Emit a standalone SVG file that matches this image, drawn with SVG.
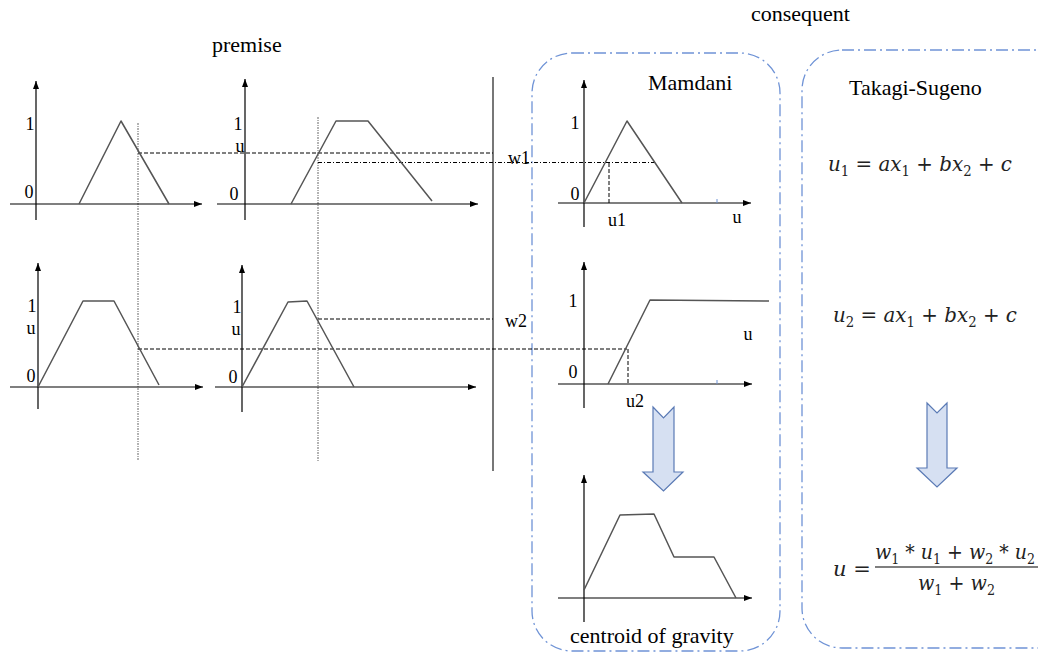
<svg xmlns="http://www.w3.org/2000/svg" width="1038" height="653" viewBox="0 0 1038 653">
<defs>
<marker id="ah" markerWidth="9" markerHeight="7" refX="8" refY="3" orient="auto" markerUnits="userSpaceOnUse">
<path d="M0,0 L8,3 L0,6 z" fill="#000"/>
</marker>
<style>
.ax{stroke:#000;stroke-width:1.2;fill:none;marker-end:url(#ah)}
.mf{stroke:#555;stroke-width:1.5;fill:none;stroke-linejoin:round}
.dash{stroke:#000;stroke-width:1;stroke-dasharray:4 2;fill:none}
.dd{stroke:#000;stroke-width:1;stroke-dasharray:4 2 1 2;fill:none}
.dot{stroke:#666;stroke-width:1;stroke-dasharray:2 1 1 1;fill:none}
.box{stroke:#6f93d6;stroke-width:1.3;stroke-dasharray:12 4 2 4;fill:none}
.big{font-family:"Liberation Serif",serif;font-size:22px;fill:#000}
.lb{font-family:"Liberation Serif",serif;font-size:18px;fill:#000;text-anchor:middle}
.eq{font-family:"DejaVu Serif",serif;font-size:21px;fill:#222}
.i{font-style:italic}
.sub{font-size:14px}
.barrow{fill:#d6e0f2;stroke:#5a7ab5;stroke-width:1.2}
</style>
</defs>

<text class="big" x="212" y="52">premise</text>
<text class="big" x="751" y="21">consequent</text>

<g id="boxes">
<rect class="box" x="532" y="53" width="248" height="598" rx="40"/>
<rect class="box" x="802" y="50" width="280" height="598" rx="40"/>
<text class="big" x="648" y="90">Mamdani</text>
<text class="big" x="849" y="95">Takagi-Sugeno</text>
</g>

<g id="connectors">
<line x1="493" y1="77" x2="493" y2="471" stroke="#777" stroke-width="2"/>
<line class="dot" x1="138" y1="123" x2="138" y2="461"/>
<line class="dot" x1="318" y1="117" x2="318" y2="461"/>
<line class="dash" x1="138" y1="153" x2="493" y2="153"/>
<line class="dd" x1="318" y1="162.5" x2="655" y2="162.5"/>
<line class="dash" x1="318" y1="319" x2="493" y2="319"/>
<line class="dash" x1="138" y1="349" x2="627" y2="349"/>
<text class="lb" x="519" y="164">w1</text>
<text class="lb" x="516" y="327">w2</text>
</g>

<g id="plot-a1">
<line class="ax" x1="36" y1="220" x2="36" y2="81"/>
<line class="ax" x1="10" y1="204" x2="202" y2="204"/>
<polyline class="mf" points="79,204 121,121 169,204"/>
<text class="lb" x="30" y="130">1</text>
<text class="lb" x="29" y="198">0</text>
</g>

<g id="plot-a2">
<line class="ax" x1="245" y1="220" x2="245" y2="79"/>
<line class="ax" x1="217" y1="204" x2="478" y2="204"/>
<polyline class="mf" points="291,204 336,121 368,121 432,201"/>
<text class="lb" x="238" y="130">1</text>
<text class="lb" x="240" y="152">u</text>
<text class="lb" x="234" y="200">0</text>
</g>

<g id="plot-b1">
<line class="ax" x1="38" y1="409" x2="38" y2="263"/>
<line class="ax" x1="10" y1="387" x2="203" y2="387"/>
<polyline class="mf" points="38,387 83,301 114,301 159,385"/>
<text class="lb" x="32" y="312">1</text>
<text class="lb" x="31" y="334">u</text>
<text class="lb" x="31" y="382">0</text>
</g>

<g id="plot-b2">
<line class="ax" x1="242" y1="412" x2="242" y2="265"/>
<line class="ax" x1="215" y1="387" x2="476" y2="387"/>
<polyline class="mf" points="242,387 288,302 307,301 354,387"/>
<text class="lb" x="237" y="313">1</text>
<text class="lb" x="236" y="335">u</text>
<text class="lb" x="233" y="383">0</text>
</g>

<g id="mamdani-1">
<line class="ax" x1="584" y1="227" x2="584" y2="80"/>
<line class="ax" x1="558" y1="203" x2="751" y2="203"/>
<polyline class="mf" points="584,203 627,121 682,203"/>
<line class="dash" x1="609" y1="163" x2="609" y2="203"/>
<line x1="717" y1="199" x2="717" y2="203" stroke="#6f93d6" stroke-width="1"/>
<text class="lb" x="575" y="129">1</text>
<text class="lb" x="575" y="200">0</text>
<text class="lb" x="617" y="226">u1</text>
<text class="lb" x="737" y="223">u</text>
</g>

<g id="mamdani-2">
<line class="ax" x1="584" y1="408" x2="584" y2="262"/>
<line class="ax" x1="558" y1="384" x2="752" y2="384"/>
<polyline class="mf" points="608,384 650,300 769,301"/>
<line class="dash" x1="628" y1="349" x2="628" y2="384"/>
<line x1="717" y1="380" x2="717" y2="384" stroke="#6f93d6" stroke-width="1"/>
<text class="lb" x="573" y="307">1</text>
<text class="lb" x="573" y="378">0</text>
<text class="lb" x="748" y="340">u</text>
<text class="lb" x="635" y="407">u2</text>
</g>

<g id="arrow-mamdani">
<path class="barrow" d="M653,407 L663.5,418 L674,407 L674,472 L683,472 L663.5,491 L643,472 L653,472 Z"/>
</g>

<g id="mamdani-result">
<line class="ax" x1="584" y1="622" x2="584" y2="475"/>
<line class="ax" x1="558" y1="598" x2="752" y2="598"/>
<polyline class="mf" points="584,590 620,515 654,514 674,557 714,557 736,598"/>
<text class="big" x="570" y="643">centroid of gravity</text>
</g>

<g id="ts-eq1">
<text class="eq" x="828" y="171" textLength="184" lengthAdjust="spacingAndGlyphs"><tspan class="i">u</tspan><tspan class="sub" dy="5">1</tspan><tspan dy="-5"> = </tspan><tspan class="i">ax</tspan><tspan class="sub" dy="5">1</tspan><tspan dy="-5"> + </tspan><tspan class="i">bx</tspan><tspan class="sub" dy="5">2</tspan><tspan dy="-5"> + </tspan><tspan class="i">c</tspan></text>
</g>

<g id="ts-eq2">
<text class="eq" x="833" y="322" textLength="184" lengthAdjust="spacingAndGlyphs"><tspan class="i">u</tspan><tspan class="sub" dy="5">2</tspan><tspan dy="-5"> = </tspan><tspan class="i">ax</tspan><tspan class="sub" dy="5">1</tspan><tspan dy="-5"> + </tspan><tspan class="i">bx</tspan><tspan class="sub" dy="5">2</tspan><tspan dy="-5"> + </tspan><tspan class="i">c</tspan></text>
</g>

<g id="arrow-ts">
<path class="barrow" d="M927,403 L937,413 L947,403 L947,468 L957,468 L937,487 L917,468 L927,468 Z"/>
</g>

<g id="ts-eq3">
<text class="eq" x="833" y="576"><tspan class="i">u</tspan> =</text>
<line x1="875" y1="567" x2="1038" y2="567" stroke="#000" stroke-width="1.2"/>
<text class="eq" x="875" y="559" textLength="160" lengthAdjust="spacingAndGlyphs"><tspan class="i">w</tspan><tspan class="sub" dy="5">1</tspan><tspan dy="-5"> * </tspan><tspan class="i">u</tspan><tspan class="sub" dy="5">1</tspan><tspan dy="-5"> + </tspan><tspan class="i">w</tspan><tspan class="sub" dy="5">2</tspan><tspan dy="-5"> * </tspan><tspan class="i">u</tspan><tspan class="sub" dy="5">2</tspan></text>
<text class="eq" x="918" y="590" textLength="77" lengthAdjust="spacingAndGlyphs"><tspan class="i">w</tspan><tspan class="sub" dy="5">1</tspan><tspan dy="-5"> + </tspan><tspan class="i">w</tspan><tspan class="sub" dy="5">2</tspan></text>
</g>
</svg>
